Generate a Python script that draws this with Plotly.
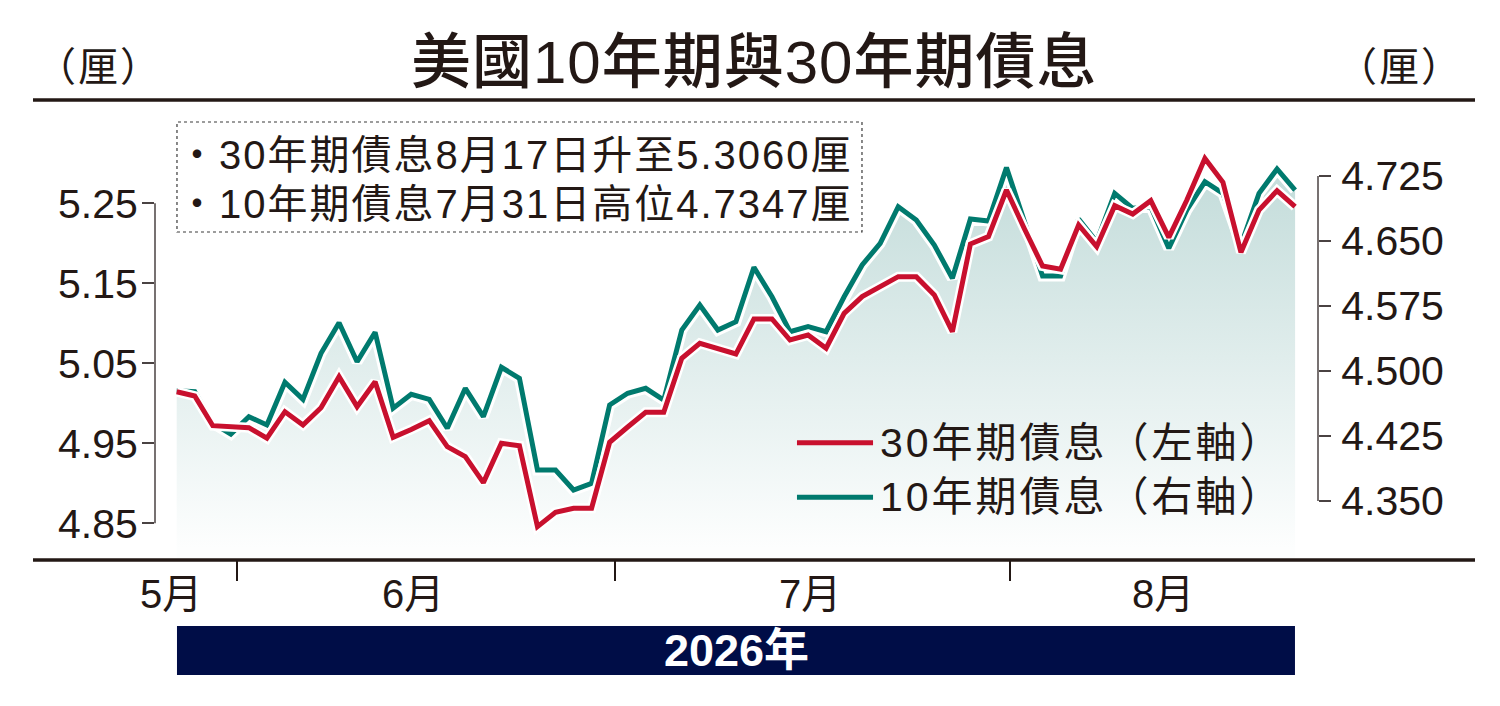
import plotly.graph_objects as go

# 30年期債息 (左軸), 10年期債息 (右軸) - 交易日序列, 2026年5月26日至8月24日
yield_30y = [5.0145, 5.0091, 4.972, 4.9704, 4.9695, 4.9563, 4.9895, 4.9729, 4.9945, 5.0333,
             4.9958, 5.027, 4.9575, 4.9673, 4.9783, 4.9458, 4.9333, 4.9008, 4.95, 4.947,
             4.8458, 4.8638, 4.8688, 4.8688, 4.9513, 4.9704, 4.9888, 4.9888, 5.0563, 5.075,
             5.0691, 5.0616, 5.1054, 5.1054, 5.0791, 5.0854, 5.0688, 5.1125, 5.1333, 5.1454,
             5.1583, 5.1583, 5.1354, 5.0895, 5.1991, 5.2083, 5.2666, 5.2179, 5.1716, 5.1675,
             5.2229, 5.1958, 5.247, 5.2366, 5.2533, 5.2075, 5.2541, 5.306, 5.2763, 5.1888,
             5.2416, 5.2658, 5.2458]
yield_10y = [4.4773, 4.4761, 4.4397, 4.4273, 4.4473, 4.4377, 4.487, 4.4673, 4.5204, 4.5557,
             4.5107, 4.5447, 4.457, 4.4731, 4.4673, 4.4339, 4.48, 4.4473, 4.5043, 4.4916,
             4.3858, 4.3858, 4.3627, 4.3704, 4.4608, 4.4743, 4.48, 4.4665, 4.5473, 4.5762,
             4.5473, 4.5569, 4.6197, 4.5857, 4.5453, 4.5511, 4.5453, 4.5857, 4.6223, 4.6473,
             4.6896, 4.6742, 4.6454, 4.607, 4.6754, 4.6731, 4.7347, 4.6719, 4.6096, 4.6096,
             4.6754, 4.6492, 4.705, 4.6877, 4.6896, 4.6416, 4.6858, 4.7184, 4.705, 4.6454,
             4.705, 4.7331, 4.7088]
days = list(range(len(yield_30y)))

months = ["5月", "6月", "7月", "8月"]
month_pos = [-0.32, 13.1, 35.1, 54.7]
month_breaks = [3.34, 24.31, 46.22]

left_ticks = [4.85, 4.95, 5.05, 5.15, 5.25]
right_ticks = [4.350, 4.425, 4.500, 4.575, 4.650, 4.725]

RED = "#c8102e"
TEAL = "#007a6e"
INK = "#231815"
AXIS = "#4a4242"
CJK = "Liberation Sans, Noto Sans CJK TC, sans-serif"
CJK_TITLE = "Liberation Sans, Noto Sans CJK TC Medium, Noto Sans CJK TC, sans-serif"


def spaced(s, px):
    # 報紙排版字距較寬
    return '<span style="letter-spacing:%dpx">%s</span>' % (px, s)


fig = go.Figure()

# 10年期 (右軸) - 底層: 漸變填色 + 白邊 + 綠線
fig.add_trace(go.Scatter(
    x=days, y=yield_10y, yaxis="y", mode="lines", line=dict(width=0),
    fill="tozeroy",
    fillgradient=dict(type="vertical", start=4.296, stop=4.735,
                      colorscale=[[0, "#fdfefe"], [1, "#c3dcda"]]),
    hoverinfo="skip", showlegend=False))
fig.add_trace(go.Scatter(x=days, y=yield_10y, yaxis="y", mode="lines",
                         line=dict(color="white", width=11), hoverinfo="skip", showlegend=False))
fig.add_trace(go.Scatter(x=days, y=yield_10y, yaxis="y", mode="lines", name="10年期債息",
                         line=dict(color=TEAL, width=5), showlegend=False))

# 30年期 (左軸) - 上層
fig.add_trace(go.Scatter(x=days, y=yield_30y, yaxis="y2", mode="lines",
                         line=dict(color="white", width=10), hoverinfo="skip", showlegend=False))
fig.add_trace(go.Scatter(x=days, y=yield_30y, yaxis="y2", mode="lines", name="30年期債息",
                         line=dict(color=RED, width=5), showlegend=False))

tick_font = dict(family="Liberation Sans, Arial, sans-serif", size=41, color=INK)

fig.update_layout(
    width=1500, height=706,
    margin=dict(l=155, r=182, t=120, b=146),
    paper_bgcolor="white", plot_bgcolor="white",
    xaxis=dict(range=[-1.203, 63.27], showgrid=False, zeroline=False, showline=False,
               tickvals=month_breaks, ticks="outside", ticklen=20, tickwidth=1.5,
               tickcolor=INK, showticklabels=False),
    yaxis=dict(range=[4.28192, 4.78962], side="right", showgrid=False, zeroline=False,
               showline=False, tickvals=right_ticks, ticktext=["%.3f" % v for v in right_ticks],
               ticks="outside", ticklen=12, tickwidth=1.5, tickcolor=AXIS,
               tickfont=tick_font, ticklabelstandoff=2),
    yaxis2=dict(range=[4.80413, 5.35413], side="left", overlaying="y", showgrid=False,
                zeroline=False, showline=False, tickvals=left_ticks,
                ticktext=["%.2f" % v for v in left_ticks],
                ticks="outside", ticklen=12, tickwidth=1.5, tickcolor=AXIS,
                tickfont=tick_font, ticklabelstandoff=-4),
    showlegend=False,
)

shapes = [
    # 上下黑線
    dict(type="line", xref="paper", yref="paper", x0=-0.1049, x1=1.135, y0=1.04545, y1=1.04545,
         line=dict(color=INK, width=3.5)),
    dict(type="line", xref="paper", yref="paper", x0=-0.1049, x1=1.135, y0=0, y1=0,
         line=dict(color=INK, width=3.5)),
    # 左右軸線 (只到刻度範圍)
    dict(type="line", xref="paper", yref="y2", x0=0, x1=0, y0=left_ticks[0], y1=left_ticks[-1],
         line=dict(color=AXIS, width=1.5)),
    dict(type="line", xref="paper", yref="y", x0=1, x1=1, y0=right_ticks[0], y1=right_ticks[-1],
         line=dict(color=AXIS, width=1.5)),
    # 註解虛線框
    dict(type="rect", xref="paper", yref="paper", x0=0.0189, x1=0.6079, y0=0.74545, y1=0.99545,
         line=dict(color="#3a3a3a", width=1.2, dash="dot"), fillcolor="rgba(255,255,255,0)"),
    # 圖例線
    dict(type="line", xref="paper", yref="paper", x0=0.552, x1=0.6174, y0=0.2666, y1=0.2666,
         line=dict(color=RED, width=5)),
    dict(type="line", xref="paper", yref="paper", x0=0.552, x1=0.6174, y0=0.1425, y1=0.1425,
         line=dict(color=TEAL, width=5)),
    # 年份底條
    dict(type="rect", xref="paper", yref="paper", x0=0.0189, x1=0.9802, y0=-0.2614, y1=-0.15,
         line=dict(width=0), fillcolor="#000d47"),
]
fig.update_layout(shapes=shapes)

annotations = [
    dict(text=spaced("美國10年期與30年期債息", 1), x=0.515, y=1.1318,
         font=dict(family=CJK_TITLE, size=60, color=INK)),
    dict(text=spaced("（厘）", 2), x=-0.0482, y=1.1205, font=dict(family=CJK, size=40, color=INK)),
    dict(text=spaced("（厘）", 2), x=1.0705, y=1.1205, font=dict(family=CJK, size=40, color=INK)),
    dict(text=spaced("・30年期債息8月17日升至5.3060厘", 2), x=0.0172, y=0.9205, xanchor="left",
         font=dict(family=CJK, size=40, color=INK)),
    dict(text=spaced("・10年期債息7月31日高位4.7347厘", 2), x=0.0172, y=0.8091, xanchor="left",
         font=dict(family=CJK, size=40, color=INK)),
    dict(text=spaced("30年期債息（左軸）", 3), x=0.6217, y=0.2666, xanchor="left",
         font=dict(family=CJK, size=41, color=INK)),
    dict(text=spaced("10年期債息（右軸）", 3), x=0.6217, y=0.1425, xanchor="left",
         font=dict(family=CJK, size=41, color=INK)),
    dict(text="2026年", x=0.4996, y=-0.2057,
         font=dict(family=CJK, size=45, color="white", weight="bold")),
]
for m, p in zip(months, month_pos):
    annotations.append(dict(text=m, x=p, xref="x", y=-0.0773,
                            font=dict(family=CJK, size=40, color=INK)))

for a in annotations:
    a.setdefault("xref", "paper")
    a.setdefault("yref", "paper")
    a.setdefault("xanchor", "center")
    a.setdefault("yanchor", "middle")
    a["showarrow"] = False
fig.update_layout(annotations=annotations)

fig.write_html("out.html", config={"displayModeBar": False},
               post_script="document.body.style.margin='0';")
